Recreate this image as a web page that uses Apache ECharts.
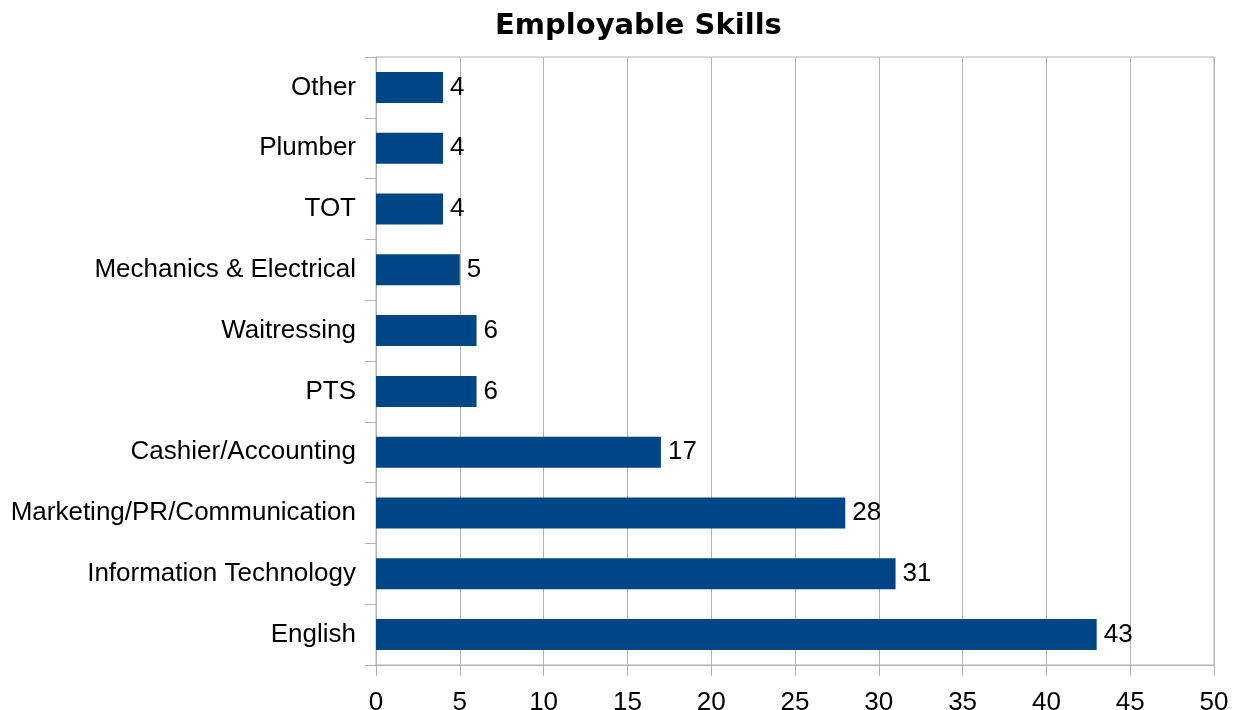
<!DOCTYPE html>
<html>
<head>
<meta charset="utf-8">
<script src="https://cdn.jsdelivr.net/npm/echarts@6/dist/echarts.min.js"></script>
<style>
  html, body { margin: 0; padding: 0; background: #fff; }
  #chart { width: 1235px; height: 710px; }
</style>
</head>
<body>
<div id="chart"></div>
<script>
// Skill categories, listed bottom to top
const skills = [
  'English',
  'Information Technology',
  'Marketing/PR/Communication',
  'Cashier/Accounting',
  'PTS',
  'Waitressing',
  'Mechanics & Electrical',
  'TOT',
  'Plumber',
  'Other'
];
// Number of people per skill
const counts = [43, 31, 28, 17, 6, 6, 5, 4, 4, 4];
const chartTitle = 'Employable Skills';

const gray = '#b3b3b3';
const chart = echarts.init(document.getElementById('chart'), null, { renderer: 'canvas' });
chart.setOption({
  animation: false,
  backgroundColor: '#ffffff',
  title: {
    text: chartTitle,
    left: 490,
    top: 7,
    textStyle: {
      fontFamily: 'DejaVu Sans',
      fontWeight: 'bold',
      fontSize: 29,
      color: '#000'
    }
  },
  grid: {
    left: 376,
    right: 21,
    top: 57,
    bottom: 45,
    show: true,
    borderColor: gray,
    borderWidth: 1,
    containLabel: false,
    outerBoundsMode: 'none'
  },
  xAxis: {
    type: 'value',
    min: 0,
    max: 50,
    interval: 5,
    axisLine: { show: true, lineStyle: { color: gray } },
    axisTick: { show: true, length: 11, lineStyle: { color: gray } },
    splitLine: { show: true, lineStyle: { color: gray } },
    axisLabel: {
      margin: 25,
      fontFamily: 'Liberation Sans',
      fontSize: 26,
      color: '#000'
    }
  },
  yAxis: {
    type: 'category',
    data: skills,
    axisLine: { show: true, lineStyle: { color: gray } },
    axisTick: { show: true, length: 11, lineStyle: { color: gray } },
    splitLine: { show: false },
    axisLabel: {
      margin: 20,
      padding: [4, 0, 0, 0],
      fontFamily: 'Liberation Sans',
      fontSize: 26,
      color: '#000'
    }
  },
  series: [{
    type: 'bar',
    data: counts,
    barWidth: '51%',
    itemStyle: { color: '#004586' },
    label: {
      show: true,
      position: 'right',
      distance: 7,
      padding: [4, 0, 0, 0],
      fontFamily: 'Liberation Sans',
      fontSize: 26,
      color: '#000'
    }
  }]
});
</script>
</body>
</html>
